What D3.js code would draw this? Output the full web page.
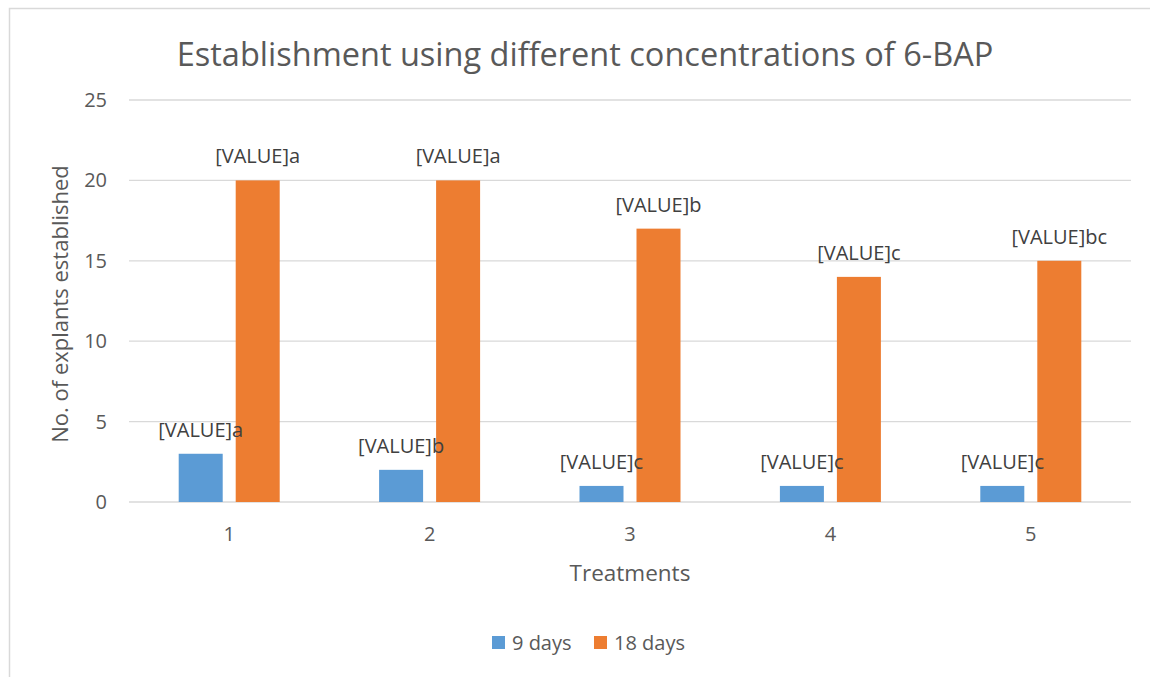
<!DOCTYPE html>
<html>
<head>
<meta charset="utf-8">
<script src="https://cdn.jsdelivr.net/npm/d3@7"></script>
<style>
  body { margin: 0; background: #fff; }
  svg { display: block; font-family: "Open Sans", "Noto Sans", sans-serif; }
</style>
</head>
<body>
<svg></svg>
<script>
// data
var treatments = ["1", "2", "3", "4", "5"];
var seriesNames = ["9 days", "18 days"];
var days9 = [3, 2, 1, 1, 1];
var days18 = [20, 20, 17, 14, 15];
var letters9 = ["a", "b", "c", "c", "c"];
var letters18 = ["a", "a", "b", "c", "bc"];
var yTicks = [0, 5, 10, 15, 20, 25];

var colors = ["#5b9bd5", "#ed7d31"];

// layout
var config = {
  w: 1150,
  h: 677,
  left: 129,
  right: 1131,
  top: 100,
  bottom: 502,
  group: 101
};

var svg = d3.select("svg")
  .attr("width", config.w)
  .attr("height", config.h);

// chart border (runs off the right and bottom edges)
svg.append("rect")
  .attr("x", 9.5).attr("y", 8.5)
  .attr("width", 1160).attr("height", 700)
  .attr("fill", "#fff")
  .attr("stroke", "#d9d9d9")
  .attr("stroke-width", 1.5);

// scales
var x = d3.scaleBand()
  .domain(treatments)
  .range([config.left, config.right]);

var inner = d3.scaleBand()
  .domain([0, 1])
  .range([0, config.group])
  .paddingInner(0.228);

var y = d3.scaleLinear()
  .domain([0, 25])
  .range([config.bottom, config.top]);

// grid
svg.append("g")
  .selectAll("line")
  .data(yTicks)
  .enter().append("line")
    .attr("x1", config.left)
    .attr("x2", config.right)
    .attr("y1", function(d) { return y(d); })
    .attr("y2", function(d) { return y(d); })
    .attr("stroke", "#d9d9d9")
    .attr("stroke-width", 1.3);

// y tick labels
svg.append("g")
  .selectAll("text")
  .data(yTicks)
  .enter().append("text")
    .attr("x", 107)
    .attr("y", function(d) { return y(d) + 7; })
    .attr("text-anchor", "end")
    .attr("fill", "#595959")
    .style("font-size", "20px")
    .text(function(d) { return d; });

// x tick labels
svg.append("g")
  .selectAll("text")
  .data(treatments)
  .enter().append("text")
    .attr("x", function(d) { return x(d) + x.bandwidth() / 2; })
    .attr("y", 541)
    .attr("text-anchor", "middle")
    .attr("fill", "#595959")
    .style("font-size", "20px")
    .text(function(d) { return d; });

// bars
var rows = treatments.map(function(t, i) {
  return [
    { t: t, s: 0, v: days9[i], l: letters9[i] },
    { t: t, s: 1, v: days18[i], l: letters18[i] }
  ];
});

var groups = svg.append("g")
  .selectAll("g")
  .data(rows)
  .enter().append("g")
    .attr("transform", function(d) {
      return "translate(" + (x(d[0].t) + (x.bandwidth() - config.group) / 2) + ",0)";
    });

groups.selectAll("rect")
  .data(function(d) { return d; })
  .enter().append("rect")
    .attr("x", function(d) { return inner(d.s); })
    .attr("width", inner.bandwidth())
    .attr("y", function(d) { return y(d.v); })
    .attr("height", function(d) { return y(0) - y(d.v); })
    .attr("fill", function(d) { return colors[d.s]; });

groups.selectAll("text")
  .data(function(d) { return d; })
  .enter().append("text")
    .attr("x", function(d) { return inner(d.s) + inner.bandwidth() / 2; })
    .attr("y", function(d) { return y(d.v) - 17; })
    .attr("text-anchor", "middle")
    .attr("fill", "#404040")
    .style("font-size", "20px")
    .text(function(d) { return "[VALUE]" + d.l; });

// title
svg.append("text")
  .attr("x", 585)
  .attr("y", 66)
  .attr("text-anchor", "middle")
  .attr("fill", "#595959")
  .style("font-size", "32.5px")
  .text("Establishment using different concentrations of 6-BAP");

// axis titles
svg.append("text")
  .attr("transform", "translate(68,304) rotate(-90)")
  .attr("text-anchor", "middle")
  .attr("fill", "#595959")
  .style("font-size", "22px")
  .text("No. of explants established");

svg.append("text")
  .attr("x", 630)
  .attr("y", 581)
  .attr("text-anchor", "middle")
  .attr("fill", "#595959")
  .style("font-size", "22.5px")
  .text("Treatments");

// legend
var leg = svg.append("g")
  .selectAll("g")
  .data(seriesNames)
  .enter().append("g")
    .attr("transform", function(d, i) { return "translate(" + (492 + i * 102) + ",636)"; });

leg.append("rect")
  .attr("width", 13)
  .attr("height", 13)
  .attr("fill", function(d, i) { return colors[i]; });

leg.append("text")
  .attr("x", 20)
  .attr("y", 14)
  .attr("fill", "#595959")
  .style("font-size", "20px")
  .text(function(d) { return d; });
</script>
</body>
</html>
